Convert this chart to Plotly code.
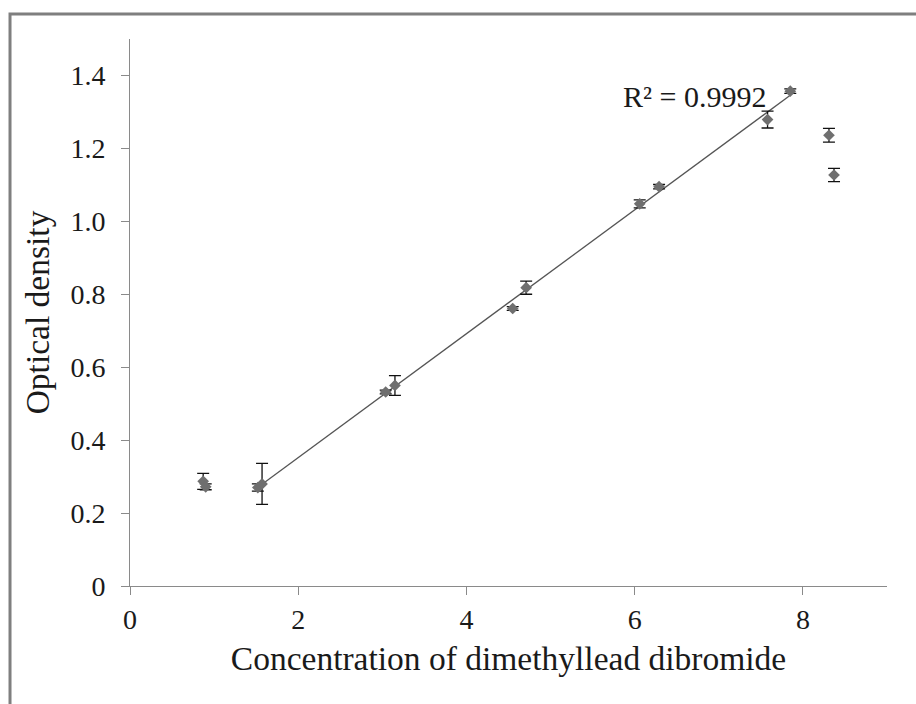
import numpy as np
import plotly.graph_objects as go

# Concentration of dimethyllead dibromide (x), optical density (y) and error (SD)
conc = [0.87, 0.90, 1.52, 1.57, 3.04, 3.15, 4.55, 4.71, 6.06, 6.29, 7.58, 7.85, 8.31, 8.37]
od = [0.287, 0.272, 0.270, 0.280, 0.532, 0.550, 0.761, 0.818, 1.048, 1.095, 1.279, 1.357, 1.236, 1.127]
err = [0.022, 0.008, 0.010, 0.056, 0.005, 0.027, 0.005, 0.018, 0.011, 0.006, 0.023, 0.006, 0.019, 0.018]
# points used for linear trendline (linear range)
fit_idx = [3, 4, 5, 6, 7, 8, 9, 10, 11]
r2_label = "R² = 0.9992"

x_ticks = [0, 2, 4, 6, 8]
y_ticks = [0, 0.2, 0.4, 0.6, 0.8, 1.0, 1.2, 1.4]
y_ticktext = ["0", "0.2", "0.4", "0.6", "0.8", "1.0", "1.2", "1.4"]

FONT = "Liberation Serif, Times New Roman, serif"

fx = np.array([conc[i] for i in fit_idx])
fy = np.array([od[i] for i in fit_idx])
slope, intercept = np.polyfit(fx, fy, 1)
line_x = np.array([fx.min(), fx.max()])
line_y = slope * line_x + intercept

fig = go.Figure()
fig.add_trace(go.Scatter(
    x=line_x, y=line_y, mode="lines",
    line=dict(color="#555555", width=1.3),
    hoverinfo="skip", showlegend=False,
))
fig.add_trace(go.Scatter(
    x=conc, y=od, mode="markers",
    marker=dict(symbol="diamond", size=9, color="#6f6f6f"),
    error_y=dict(type="data", array=err, visible=True, color="#111111",
                 thickness=1.3, width=6),
    showlegend=False,
))

fig.add_annotation(
    x=fx.max() - 0.27, y=1.343, xref="x", yref="y",
    text=r2_label, showarrow=False, xanchor="right", yanchor="middle",
    font=dict(family=FONT, size=30, color="#1a1a1a"),
)

# outer frame (left and top edges visible)
fig.add_shape(type="rect", xref="paper", yref="paper",
              x0=-0.1585, x1=1.2, y0=-0.4, y1=1.0455,
              line=dict(color="#7f7f7f", width=3), fillcolor="rgba(0,0,0,0)",
              layer="below")

fig.update_layout(
    width=916, height=704,
    margin=dict(l=130, r=29, t=39, b=118),
    paper_bgcolor="white", plot_bgcolor="white",
    font=dict(family=FONT, color="#1a1a1a"),
    showlegend=False,
)
fig.update_xaxes(
    range=[0, 9], tickvals=x_ticks, ticks="outside", ticklen=8,
    tickcolor="#8a8a8a", showline=True, linecolor="#8a8a8a", linewidth=1,
    showgrid=False, zeroline=False,
    tickfont=dict(family=FONT, size=28, color="#1a1a1a"),
    title=dict(text="Concentration of dimethyllead dibromide",
               font=dict(family=FONT, size=33.5, color="#1a1a1a"), standoff=12),
)
fig.update_yaxes(
    range=[0, 1.5], tickvals=y_ticks, ticktext=y_ticktext, ticks="outside",
    ticklen=8, tickcolor="#8a8a8a", showline=True, linecolor="#8a8a8a",
    linewidth=1, showgrid=False, zeroline=False, ticklabelstandoff=10,
    tickfont=dict(family=FONT, size=28, color="#1a1a1a"),
    title=dict(text="Optical density",
               font=dict(family=FONT, size=33.5, color="#1a1a1a"), standoff=10),
)

fig.write_html("out.html", config={"displayModeBar": False},
               post_script="document.body.style.margin='0';")
